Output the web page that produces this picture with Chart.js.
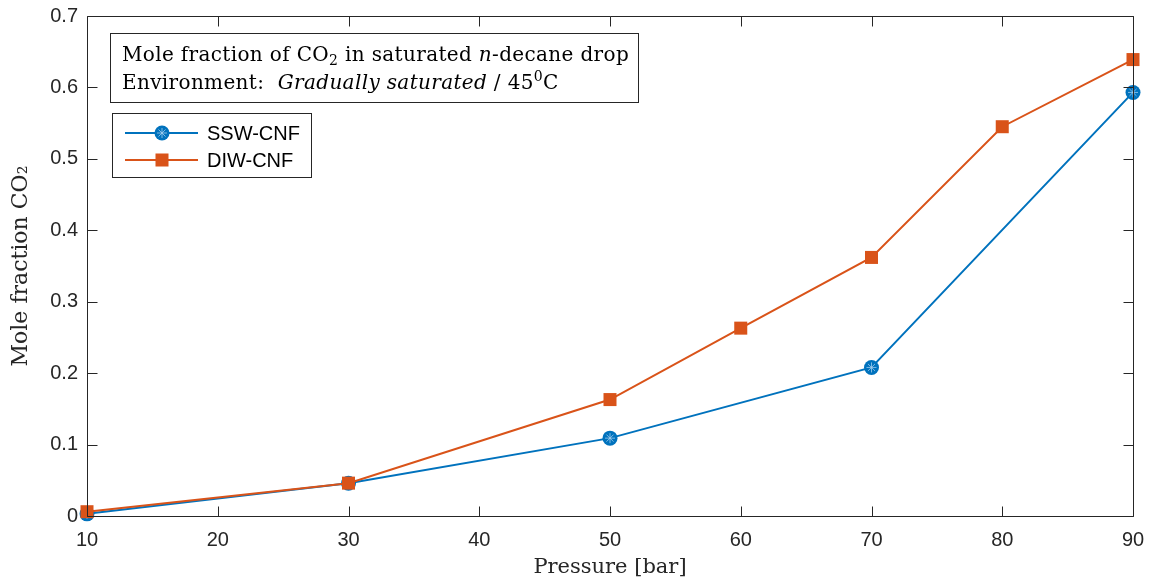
<!DOCTYPE html>
<html>
<head>
<meta charset="utf-8">
<script src="https://cdn.jsdelivr.net/npm/chart.js@4.4.1/dist/chart.umd.min.js"></script>
<style>
  html, body { margin: 0; padding: 0; background: #ffffff; }
  #wrap { width: 1150px; height: 584px; }
</style>
</head>
<body>
<div id="wrap"><canvas id="c" width="1150" height="584"></canvas></div>
<script>
// Pressure [bar] and CO2 mole fraction for each drop series
const sswPressure = [10, 30, 50, 70, 90];
const sswFraction = [0.003, 0.046, 0.109, 0.208, 0.593];
const diwPressure = [10, 30, 50, 60, 70, 80, 90];
const diwFraction = [0.006, 0.046, 0.163, 0.263, 0.362, 0.545, 0.639];
const seriesNames = ['SSW-CNF', 'DIW-CNF'];
const xTicks = [10, 20, 30, 40, 50, 60, 70, 80, 90];
const yTicks = [0, 0.1, 0.2, 0.3, 0.4, 0.5, 0.6, 0.7];

const BLUE = '#0072BD';
const ORANGE = '#D95319';
const AXIS = '#262626';
const SANS = '"Liberation Sans", Arial, Helvetica, sans-serif';
const SERIF = '"DejaVu Serif", "Liberation Serif", serif';

const toPoints = (xs, ys) => xs.map((x, i) => ({ x, y: ys[i] }));

// Box frame with inward ticks on all four sides
const framePlugin = {
  id: 'frame',
  afterDatasetsDraw(chart) {
    const { ctx, chartArea: a, scales } = chart;
    const L = Math.round(a.left) + 0.5, R = Math.round(a.right) + 0.5;
    const T = Math.round(a.top) + 0.5, B = Math.round(a.bottom) + 0.5;
    const len = 10;
    ctx.save();
    ctx.strokeStyle = AXIS;
    ctx.lineWidth = 1;
    ctx.beginPath();
    ctx.rect(L, T, R - L, B - T);
    xTicks.forEach(v => {
      const px = Math.round(scales.x.getPixelForValue(v)) + 0.5;
      ctx.moveTo(px, B); ctx.lineTo(px, B - len);
      ctx.moveTo(px, T); ctx.lineTo(px, T + len);
    });
    yTicks.forEach(v => {
      const py = Math.round(scales.y.getPixelForValue(v)) + 0.5;
      ctx.moveTo(L, py); ctx.lineTo(L + len, py);
      ctx.moveTo(R, py); ctx.lineTo(R - len, py);
    });
    ctx.stroke();
    ctx.restore();
  }
};

// Light spokes inside the circular markers
function drawSpokes(ctx, x, y, r) {
  ctx.save();
  ctx.strokeStyle = 'rgba(170,210,240,0.75)';
  ctx.lineWidth = 1;
  ctx.beginPath();
  for (let k = 0; k < 4; k++) {
    const t = k * Math.PI / 4;
    ctx.moveTo(x - r * Math.cos(t), y - r * Math.sin(t));
    ctx.lineTo(x + r * Math.cos(t), y + r * Math.sin(t));
  }
  ctx.stroke();
  ctx.restore();
}

const spokePlugin = {
  id: 'spokes',
  afterDatasetDraw(chart, args) {
    if (args.index !== 0) return;
    const meta = chart.getDatasetMeta(0);
    meta.data.forEach(pt => drawSpokes(chart.ctx, pt.x, pt.y, 5));
  }
};

// Draw a run of text pieces, with optional italic / sub / superscript
function drawRich(ctx, x, y, pieces, size) {
  let cx = x;
  ctx.letterSpacing = '0.35px';
  pieces.forEach(p => {
    const s = p.sub || p.sup ? Math.round(size * 0.7) : size;
    ctx.font = (p.it ? 'italic ' : '') + s + 'px ' + SERIF;
    const dy = p.sub ? size * 0.22 : (p.sup ? -size * 0.38 : 0);
    ctx.fillText(p.t, cx, y + dy);
    cx += ctx.measureText(p.t).width;
  });
  ctx.letterSpacing = '0px';
}

const notePlugin = {
  id: 'notes',
  afterDraw(chart) {
    const { ctx } = chart;
    ctx.save();
    // Description box
    ctx.fillStyle = '#ffffff';
    ctx.fillRect(110.5, 33.5, 528, 69);
    ctx.strokeStyle = AXIS;
    ctx.lineWidth = 1;
    ctx.strokeRect(110.5, 33.5, 528, 69);
    ctx.fillStyle = '#000000';
    ctx.textBaseline = 'alphabetic';
    ctx.textAlign = 'left';
    drawRich(ctx, 122, 61, [
      { t: 'Mole fraction of CO' }, { t: '2', sub: true },
      { t: ' in saturated ' }, { t: 'n', it: true }, { t: '-decane drop' }
    ], 20);
    drawRich(ctx, 122, 89, [
      { t: 'Environment:  ' }, { t: 'Gradually saturated', it: true },
      { t: ' / 45' }, { t: '0', sup: true }, { t: 'C' }
    ], 20);

    // Legend box
    ctx.fillStyle = '#ffffff';
    ctx.fillRect(112.5, 113.5, 199, 64);
    ctx.strokeStyle = AXIS;
    ctx.strokeRect(112.5, 113.5, 199, 64);
    const rows = [133, 160];
    chart.data.datasets.forEach((ds, i) => {
      const y = rows[i];
      ctx.strokeStyle = ds.borderColor;
      ctx.lineWidth = 2;
      ctx.beginPath();
      ctx.moveTo(125, y); ctx.lineTo(198, y);
      ctx.stroke();
      ctx.fillStyle = ds.backgroundColor;
      if (ds.pointStyle === 'circle') {
        ctx.beginPath();
        ctx.arc(162, y, 7.5, 0, Math.PI * 2);
        ctx.fill();
        drawSpokes(ctx, 162, y, 5);
      } else {
        ctx.fillRect(162 - 6.5, y - 6.5, 13, 13);
      }
      ctx.fillStyle = '#000000';
      ctx.font = '20px ' + SANS;
      ctx.textBaseline = 'middle';
      ctx.fillText(ds.label, 207, y + 1);
    });
    ctx.restore();
  }
};

new Chart(document.getElementById('c'), {
  type: 'line',
  data: {
    datasets: [
      {
        label: seriesNames[0],
        data: toPoints(sswPressure, sswFraction),
        borderColor: BLUE, backgroundColor: BLUE,
        borderWidth: 2, pointStyle: 'circle', pointRadius: 7.5,
        pointBorderWidth: 0, tension: 0, order: 1, clip: false
      },
      {
        label: seriesNames[1],
        data: toPoints(diwPressure, diwFraction),
        borderColor: ORANGE, backgroundColor: ORANGE,
        borderWidth: 2, pointStyle: 'rect', pointRadius: 9.2,
        pointBorderWidth: 0, tension: 0, order: 0, clip: false
      }
    ]
  },
  options: {
    responsive: false,
    animation: false,
    events: [],
    layout: { padding: { top: 16, right: 17, left: 0, bottom: 0 } },
    plugins: { legend: { display: false }, tooltip: { enabled: false } },
    scales: {
      x: {
        type: 'linear', min: 10, max: 90,
        afterFit: s => { s.height = 68; s.paddingLeft = 0; s.paddingRight = 0; },
        afterBuildTicks: s => { s.ticks = xTicks.map(v => ({ value: v })); },
        grid: { display: false, drawTicks: false },
        border: { display: false },
        ticks: { color: AXIS, font: { family: SANS, size: 20 }, padding: 12, maxRotation: 0 },
        title: { display: true, text: 'Pressure [bar]', color: AXIS,
                 font: { family: SERIF, size: 21 }, padding: { top: 3 } }
      },
      y: {
        type: 'linear', min: 0, max: 0.7,
        afterFit: s => { s.width = 87; s.paddingTop = 0; s.paddingBottom = 0; },
        afterBuildTicks: s => { s.ticks = yTicks.map(v => ({ value: v })); },
        grid: { display: false, drawTicks: false },
        border: { display: false },
        ticks: { color: AXIS, font: { family: SANS, size: 20 }, padding: 9,
                 callback: v => String(Math.round(v * 10) / 10) },
        title: { display: true, text: 'Mole fraction CO₂', color: AXIS,
                 font: { family: SERIF, size: 22 }, padding: { top: 8 } }
      }
    }
  },
  plugins: [spokePlugin, framePlugin, notePlugin]
});
</script>
</body>
</html>
